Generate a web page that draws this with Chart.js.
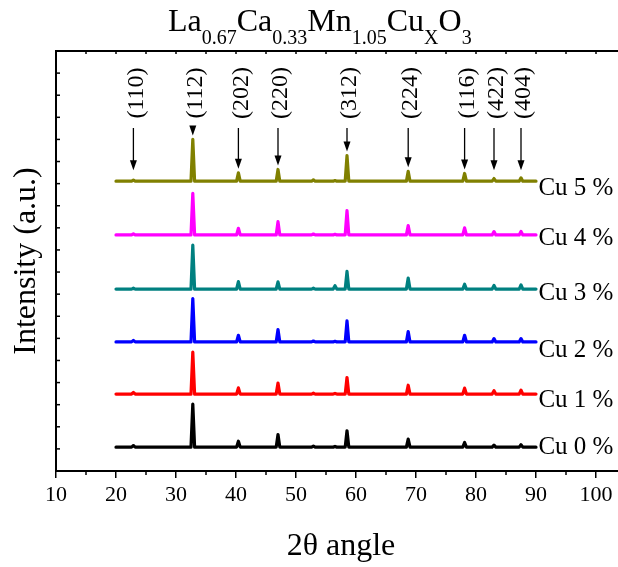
<!DOCTYPE html>
<html><head><meta charset="utf-8">
<script src="https://cdn.jsdelivr.net/npm/chart.js@4.4.1/dist/chart.umd.min.js"></script>
<style>
html,body{margin:0;padding:0;background:#fff;overflow:hidden;width:618px;height:567px;}
#wrap{position:relative;width:640px;height:567px;}
#title{position:absolute;left:168px;top:4px;font-family:"Liberation Serif","Times New Roman",serif;font-size:32px;line-height:32px;white-space:nowrap;color:#000;}
#title sub{font-size:20px;vertical-align:baseline;position:relative;top:13px;}
</style></head>
<body><div id="wrap"><canvas id="c" width="640" height="567"></canvas>
<div id="title">La<sub>0.67</sub>Ca<sub>0.33</sub>Mn<sub>1.05</sub>Cu<sub>X</sub>O<sub>3</sub></div></div>
<script>
// 2θ positions of the diffraction peaks (degrees)
const peakPositions = [22.9, 32.8, 40.4, 47.0, 52.9, 56.5, 58.5, 68.7, 78.1, 83.0, 87.5];
// Miller indices marked by arrows
const hklLabels = ['(110)', '(112)', '(202)', '(220)', '(312)', '(224)', '(116)', '(422)', '(404)'];
const hklPositions = [22.9, 32.8, 40.4, 47.0, 58.5, 68.7, 78.1, 83.0, 87.5];
// series
const seriesNames = ['Cu 0 %', 'Cu 1 %', 'Cu 2 %', 'Cu 3 %', 'Cu 4 %', 'Cu 5 %'];
const seriesColors = ['#000000', '#ff0000', '#0000ff', '#008080', '#ff00ff', '#808000'];
const baselines = [108, 348, 584, 823, 1068, 1311];
const cu0 = [7, 195, 27, 57, 5, 3, 74, 36, 21, 9, 11];
const cu1 = [7, 190, 28, 50, 4, 3, 75, 40, 27, 15, 18];
const cu2 = [7, 196, 30, 56, 4, 3, 95, 47, 30, 15, 15];
const cu3 = [4, 199, 34, 33, 4, 15, 80, 50, 22, 16, 19];
const cu4 = [5, 188, 30, 60, 4, 3, 110, 42, 32, 15, 16];
const cu5 = [5, 189, 38, 53, 6, 3, 116, 45, 35, 12, 15];
const peakHeights = [cu0, cu1, cu2, cu3, cu4, cu5];
const scanStart = 20, scanEnd = 90;
// x tick labels
const xTickValues = [10, 20, 30, 40, 50, 60, 70, 80, 90, 100];

const FONT = '"Liberation Serif","Times New Roman",serif';

function buildPoints(base, heights) {
  const pts = [{x: scanStart, y: base}];
  peakPositions.forEach((p, i) => {
    pts.push({x: p - 0.3, y: base});
    pts.push({x: p, y: base + heights[i]});
    pts.push({x: p + 0.3, y: base});
  });
  pts.push({x: scanEnd, y: base});
  return pts;
}

const datasets = seriesNames.map((n, i) => ({
  label: n,
  data: buildPoints(baselines[i], peakHeights[i]),
  borderColor: seriesColors[i],
  backgroundColor: seriesColors[i],
  borderWidth: 3.2,
  borderJoinStyle: 'round',
  borderCapStyle: 'round',
  pointRadius: 0,
  tension: 0,
  fill: false
}));

// label anchor heights (data units) for the series names
const nameLabelY = [107, 318, 544, 805, 1051, 1279];

const decor = {
  id: 'decor',
  afterDraw(chart) {
    const ctx = chart.ctx, xs = chart.scales.x, ys = chart.scales.y, ca = chart.chartArea;
    ctx.save();
    ctx.strokeStyle = '#000';
    ctx.fillStyle = '#000';
    ctx.lineWidth = 1.5;
    const line = (x1, y1, x2, y2) => { ctx.beginPath(); ctx.moveTo(x1, y1); ctx.lineTo(x2, y2); ctx.stroke(); };
    // bottom minor ticks
    for (let v = 15; v <= 105; v += 10) { const px = xs.getPixelForValue(v); line(px, ca.bottom, px, ca.bottom + 4); }
    // top inward ticks
    for (let v = 15; v <= 105; v += 5) { const px = xs.getPixelForValue(v); line(px, ca.top, px, ca.top + 3); }
    // left inward ticks
    for (let v = 100; v < 1900; v += 100) { const py = ys.getPixelForValue(v); line(ca.left, py, ca.left + 4, py); }

    // arrows & hkl labels
    const top5 = baselines[5], h5 = peakHeights[5];
    ctx.lineWidth = 1.3;
    hklPositions.forEach((pos, i) => {
      const idx = peakPositions.indexOf(pos);
      const px = xs.getPixelForValue(pos);
      const peakTop = ys.getPixelForValue(top5 + h5[idx]);
      const tip = Math.min(peakTop - 4, ys.getPixelForValue(top5) - 11);
      const start = ca.top + 77;
      line(px, start, px, tip - 8);
      ctx.beginPath();
      ctx.moveTo(px - 3.5, tip - 10);
      ctx.lineTo(px + 3.5, tip - 10);
      ctx.lineTo(px, tip);
      ctx.closePath();
      ctx.fill();
      ctx.save();
      ctx.translate(px + 3, ca.top + 42);
      ctx.rotate(-Math.PI / 2);
      ctx.font = '24px ' + FONT;
      ctx.textAlign = 'center';
      ctx.textBaseline = 'middle';
      ctx.fillText(hklLabels[i], 0, 0);
      ctx.restore();
    });

    // series names
    ctx.font = '25px ' + FONT;
    ctx.textAlign = 'left';
    ctx.textBaseline = 'middle';
    seriesNames.forEach((n, i) => {
      ctx.fillText(n, xs.getPixelForValue(90.4), ys.getPixelForValue(nameLabelY[i]));
    });
    ctx.restore();
  }
};

new Chart(document.getElementById('c'), {
  type: 'line',
  data: {datasets},
  options: {
    responsive: false,
    animation: false,
    devicePixelRatio: 1,
    layout: {padding: {top: 51, right: 14, left: 0, bottom: 0}},
    plugins: {legend: {display: false}, tooltip: {enabled: false}, title: {display: false}},
    scales: {
      x: {
        type: 'linear', position: 'bottom', min: 10, max: 105,
        afterBuildTicks: s => { s.ticks = xTickValues.map(v => ({value: v})); },
        ticks: {color: '#000', font: {family: FONT, size: 22}, padding: 4, maxRotation: 0, autoSkip: false,
                callback: v => String(v)},
        grid: {display: true, drawOnChartArea: false, drawTicks: true, tickLength: 7, color: '#000', lineWidth: 1.5},
        border: {display: true, color: '#000', width: 2},
        title: {display: true, text: '2θ angle', color: '#000', font: {family: FONT, size: 32}, padding: {top: 0, bottom: 1}},
        afterFit: s => { s.height = 96; }
      },
      xTop: {
        type: 'linear', position: 'top', min: 10, max: 105,
        ticks: {display: false}, grid: {display: false},
        border: {display: true, color: '#000', width: 2},
        afterFit: s => { s.height = 0; }
      },
      y: {
        type: 'linear', position: 'left', min: 0, max: 1900,
        ticks: {display: false, stepSize: 100}, grid: {display: false},
        border: {display: true, color: '#000', width: 2},
        title: {display: true, text: 'Intensity (a.u.)', color: '#000', font: {family: FONT, size: 32}, padding: {top: 7, bottom: 0}},
        afterFit: s => { s.width = 56; }
      }
    }
  },
  plugins: [decor]
});
</script>
</body></html>
